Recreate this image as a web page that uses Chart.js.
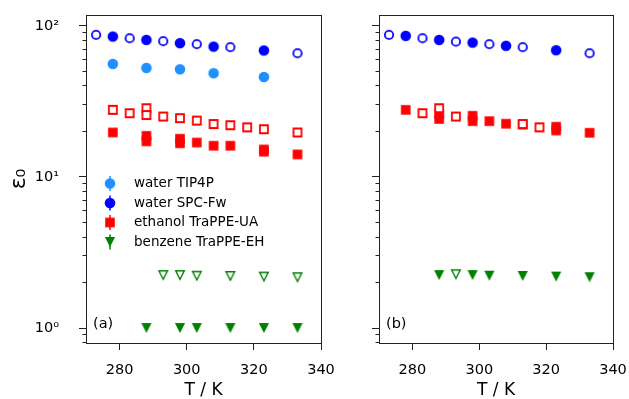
<!DOCTYPE html>
<html>
<head>
<meta charset="utf-8">
<script src="https://cdn.jsdelivr.net/npm/chart.js@4.4.0/dist/chart.umd.min.js"></script>
<style>
  html, body { margin: 0; padding: 0; background: #fff; }
  #wrap { position: relative; width: 629px; height: 399px; }
  canvas { position: absolute; top: 0; }
</style>
</head>
<body>
<div id="wrap">
  <canvas id="chartA" width="350" height="399" style="left:0"></canvas>
  <canvas id="chartB" width="279" height="399" style="left:350px"></canvas>
</div>
<script>
// ---- data, panel (a) ----
const waterOpenT = [273, 283, 293, 303, 313, 333];
const waterFilledT = [278, 288, 298, 308, 323];
const spcOpenA = [87.2, 82.8, 79.2, 75.7, 72.3, 65.9];
const spcFilledA = [85.0, 80.7, 76.8, 72.9, 68.7];
const tip4pA = [56.0, 52.7, 51.6, 48.6, 45.9];
const ethOpenTA = [278, 283, 288, 288, 293, 298, 303, 308, 313, 318, 323, 333];
const ethOpenA = [27.8, 26.4, 28.5, 25.7, 25.1, 24.5, 23.6, 22.4, 22.0, 21.3, 20.7, 19.7];
const ethFilledTA = [278, 288, 288, 298, 298, 303, 308, 313, 323, 323, 333];
const ethFilledA = [19.7, 18.7, 17.2, 17.9, 16.7, 16.9, 16.1, 16.1, 15.2, 14.7, 14.1];
const bzOpenTA = [293, 298, 303, 313, 323, 333];
const bzOpenA = [2.24, 2.24, 2.22, 2.21, 2.19, 2.17];
const bzFilledTA = [288, 298, 303, 313, 323, 333];
const bzFilledA = [1.0, 1.0, 1.0, 1.0, 1.0, 1.0];

// ---- data, panel (b) ----
const spcOpenB = [87.2, 82.8, 78.7, 75.7, 72.3, 65.9];
const spcFilledB = [85.9, 80.7, 77.5, 73.8, 69.0];
const ethOpenTB = [283, 288, 293, 313, 318];
const ethOpenB = [26.4, 28.5, 25.1, 22.4, 21.3];
const ethFilledTB = [278, 288, 288, 298, 298, 303, 308, 313, 323, 323, 333];
const ethFilledB = [27.8, 26.0, 24.2, 25.4, 23.4, 23.4, 22.5, 22.2, 21.5, 20.3, 19.6];
const bzOpenTB = [293];
const bzOpenB = [2.27];
const bzFilledTB = [288, 298, 303, 313, 323, 333];
const bzFilledB = [2.24, 2.24, 2.22, 2.21, 2.19, 2.17];

// ---- axes / labels ----
const xTicks = [280, 300, 320, 340];
const yTicks = [1, 10, 100];
const yTickLabels = ['10\u2070', '10\u00b9', '10\u00b2'];
const legendLabels = ['water TIP4P', 'water SPC-Fw', 'ethanol TraPPE-UA', 'benzene TraPPE-EH'];

const FONT = 'DejaVu Sans';
const cBlue = '#0000ff', cLight = '#1e90ff', cRed = '#ff0000', cGreen = '#008000';

// small canvases used as point styles (matplotlib-like markers)
function marker(shape, color, filled) {
  const c = document.createElement('canvas');
  c.width = 14; c.height = 14;
  const g = c.getContext('2d');
  g.fillStyle = filled ? color : '#fff';
  g.strokeStyle = color;
  g.beginPath();
  if (shape === 'circle') {
    g.arc(7, 7, filled ? 5.3 : 4.2, 0, 2 * Math.PI);
  } else if (shape === 'square') {
    if (filled) g.rect(2.2, 2.2, 9.6, 9.6); else g.rect(3.0, 3.0, 8.0, 8.0);
  } else {
    const h = filled ? 5.1 : 4.3;
    g.moveTo(7 - h, 7 - h); g.lineTo(7 + h, 7 - h); g.lineTo(7, 7 + h); g.closePath();
  }
  g.fill();
  if (!filled) { g.lineWidth = shape === 'tri' ? 1.4 : 1.8; g.stroke(); }
  return c;
}

const mk = {
  blueO: marker('circle', cBlue, false), blueF: marker('circle', cBlue, true),
  lightF: marker('circle', cLight, true),
  redO: marker('square', cRed, false), redF: marker('square', cRed, true),
  greenO: marker('tri', cGreen, false), greenF: marker('tri', cGreen, true)
};

function pts(xs, ys) { return xs.map((x, i) => ({ x: x, y: ys[i] })); }
function ds(xs, ys, style) {
  return { data: pts(xs, ys), pointStyle: style, pointRadius: 5, showLine: false };
}

const panelPlugin = {
  id: 'panel',
  afterDraw(chart, args, opts) {
    const { ctx, chartArea: { left, right, top, bottom }, scales: { y } } = chart;
    const al = p => Math.round(p - 0.5) + 0.5;
    ctx.save();
    ctx.strokeStyle = '#222';
    ctx.lineWidth = 1;
    ctx.strokeRect(al(left), al(top), al(right) - al(left), al(bottom) - al(top));
    // minor log ticks
    ctx.beginPath();
    for (let k = -1; k <= 2; k++) {
      for (let m = 2; m <= 9; m++) {
        const v = m * Math.pow(10, k);
        if (v < y.min || v > y.max) continue;
        const py = al(y.getPixelForValue(v));
        ctx.moveTo(al(left) - 4, py);
        ctx.lineTo(al(left), py);
      }
    }
    ctx.stroke();

    ctx.fillStyle = '#000';
    ctx.font = '14.5px "' + FONT + '"';
    ctx.textBaseline = 'middle';
    ctx.textAlign = 'left';
    ctx.fillText(opts.label, left + 7, bottom - 19);

    if (opts.legend) {
      const styles = [mk.lightF, mk.blueF, mk.redF, mk.greenF];
      const colors = [cLight, cBlue, cRed, cGreen];
      ctx.font = '13.5px "' + FONT + '"';
      legendLabels.forEach((txt, i) => {
        const mx = left + 24, my = top + 168.5 + i * 19.5;
        ctx.strokeStyle = colors[i];
        ctx.lineWidth = 1.5;
        ctx.beginPath();
        ctx.moveTo(mx, my - 7.5); ctx.lineTo(mx, my + 7.5);
        ctx.stroke();
        ctx.drawImage(styles[i], mx - 7, my - 7);
        ctx.fillStyle = '#000';
        ctx.fillText(txt, left + 48, my);
      });
    }
    ctx.restore();
  }
};

function noPad(s) { s.paddingTop = 0; s.paddingBottom = 0; s.paddingLeft = 0; s.paddingRight = 0; }

function makeChart(id, datasets, yWidth, padRight, showYLabels, panel) {
  return new Chart(document.getElementById(id), {
    type: 'scatter',
    data: { datasets: datasets },
    options: {
      responsive: false,
      animation: false,
      layout: { padding: { left: 0, right: padRight, top: 15, bottom: 0 } },
      plugins: { legend: { display: false }, tooltip: { enabled: false }, panel: panel },
      scales: {
        x: {
          type: 'linear', min: 270, max: 340,
          afterBuildTicks: s => { s.ticks = xTicks.map(v => ({ value: v })); },
          afterFit: s => { s.height = 56; noPad(s); },
          grid: { drawOnChartArea: false, drawTicks: true, tickLength: 7, color: '#222' },
          border: { display: false },
          ticks: { color: '#000', font: { family: FONT, size: 14.5 }, padding: 12, maxRotation: 0, autoSkip: false },
          title: { display: true, text: 'T / K', color: '#000', font: { family: FONT, size: 17, lineHeight: 1.0 }, padding: { top: 0, bottom: 0 } }
        },
        y: {
          type: 'logarithmic', min: 0.796, max: 118, bounds: 'data',
          afterBuildTicks: s => { s.ticks = yTicks.map(v => ({ value: v })); },
          afterFit: s => { s.width = yWidth; noPad(s); },
          grid: { drawOnChartArea: false, drawTicks: true, tickLength: 7, color: '#222' },
          border: { display: false },
          ticks: {
            color: '#000', font: { family: FONT, size: 14.5 }, padding: 20, autoSkip: false,
            callback: v => showYLabels ? yTickLabels[yTicks.indexOf(v)] : ''
          },
          title: { display: showYLabels, text: '\u03b5\u2080', color: '#000', font: { family: FONT, size: 22 }, padding: { top: 6, bottom: 0 } }
        }
      }
    },
    plugins: [panelPlugin]
  });
}

makeChart('chartA', [
  ds(waterOpenT, spcOpenA, mk.blueO),
  ds(waterFilledT, spcFilledA, mk.blueF),
  ds(waterFilledT, tip4pA, mk.lightF),
  ds(ethOpenTA, ethOpenA, mk.redO),
  ds(ethFilledTA, ethFilledA, mk.redF),
  ds(bzOpenTA, bzOpenA, mk.greenO),
  ds(bzFilledTA, bzFilledA, mk.greenF)
], 86, 29, true, { label: '(a)', legend: true });

makeChart('chartB', [
  ds(waterOpenT, spcOpenB, mk.blueO),
  ds(waterFilledT, spcFilledB, mk.blueF),
  ds(ethOpenTB, ethOpenB, mk.redO),
  ds(ethFilledTB, ethFilledB, mk.redF),
  ds(bzOpenTB, bzOpenB, mk.greenO),
  ds(bzFilledTB, bzFilledB, mk.greenF)
], 29, 16, false, { label: '(b)', legend: false });
</script>
</body>
</html>
